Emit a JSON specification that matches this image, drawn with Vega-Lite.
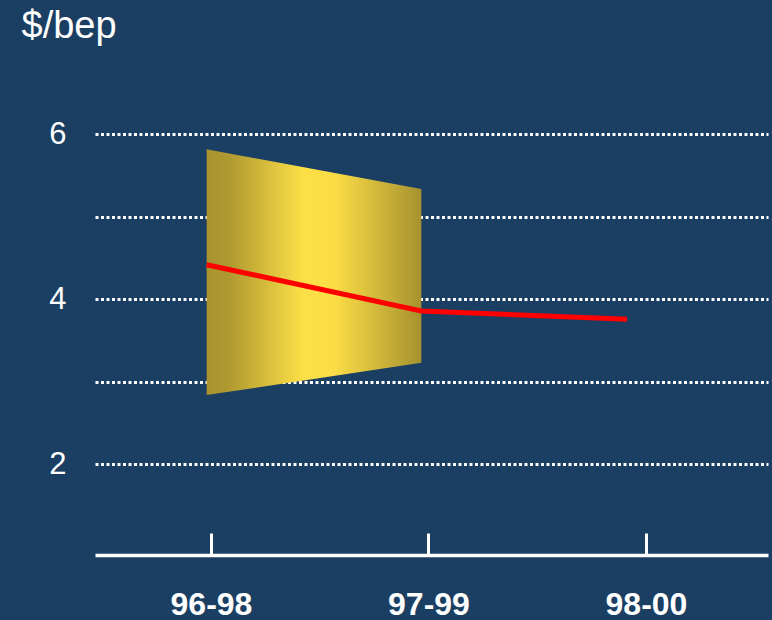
{
  "$schema": "https://vega.github.io/schema/vega-lite/v6.json",
  "width": 673,
  "height": 503,
  "autosize": {"type": "none"},
  "padding": {"left": 95, "top": 52, "right": 4, "bottom": 65},
  "background": "#1b3e63",
  "config": {"view": {"stroke": null}, "font": "Liberation Sans"},
  "datasets": {
    "band": [
      {"period": "96-98", "x": -0.02, "low": 2.84, "high": 5.82},
      {"period": "97-99", "x": 0.967, "low": 3.23, "high": 5.34}
    ],
    "line": [
      {"period": "96-98", "x": -0.02, "v": 4.42},
      {"period": "97-99", "x": 0.967, "v": 3.86},
      {"period": "98-00", "x": 1.913, "v": 3.76}
    ]
  },
  "layer": [
    {
      "data": {"name": "band"},
      "mark": {
        "type": "area",
        "color": {
          "gradient": "linear",
          "x1": 0, "x2": 1, "y1": 0, "y2": 0,
          "stops": [
            {"offset": 0, "color": "#a8932f"},
            {"offset": 0.1, "color": "#ae9830"},
            {"offset": 0.45, "color": "#fde047"},
            {"offset": 0.6, "color": "#fbdc46"},
            {"offset": 1, "color": "#a6922f"}
          ]
        }
      },
      "encoding": {
        "x": {
          "field": "x",
          "type": "quantitative",
          "scale": {"domain": [-0.5333, 2.561], "nice": false, "zero": false},
          "axis": {
            "values": [0, 1, 2],
            "labelExpr": "datum.value == 0 ? '96-98' : datum.value == 1 ? '97-99' : '98-00'",
            "title": null,
            "grid": false,
            "domainColor": "white",
            "domainWidth": 3.5,
            "tickColor": "white",
            "tickWidth": 3,
            "tickSize": -22,
            "labelColor": "white",
            "labelFont": "Liberation Sans",
            "labelFontSize": 32,
            "labelFontWeight": "bold",
            "labelPadding": 56,
            "labelFlush": false,
            "labelOverlap": false
          }
        },
        "y": {
          "field": "high",
          "type": "quantitative",
          "scale": {"domain": [0.9, 7], "nice": false, "zero": false},
          "axis": {
            "values": [2, 3, 4, 5, 6],
            "format": "d",
            "labelExpr": "datum.value % 2 == 0 ? datum.label : ''",
            "title": "$/bep",
            "titleAngle": 0,
            "titleAlign": "left",
            "titleBaseline": "alphabetic",
            "titleX": -74,
            "titleY": -15,
            "titleColor": "white",
            "titleFont": "Liberation Sans",
            "titleFontSize": 38,
            "titleFontWeight": "normal",
            "domain": false,
            "ticks": false,
            "grid": true,
            "gridColor": "white",
            "gridWidth": 3,
            "gridDash": [3, 2.5],
            "gridOpacity": 1,
            "labelColor": "white",
            "labelFont": "Liberation Sans",
            "labelFontSize": 31,
            "labelPadding": 29
          }
        },
        "y2": {"field": "low"}
      }
    },
    {
      "data": {"name": "line"},
      "mark": {"type": "line", "color": "#ff0000", "strokeWidth": 5},
      "encoding": {
        "x": {"field": "x", "type": "quantitative"},
        "y": {"field": "v", "type": "quantitative"}
      }
    }
  ]
}
